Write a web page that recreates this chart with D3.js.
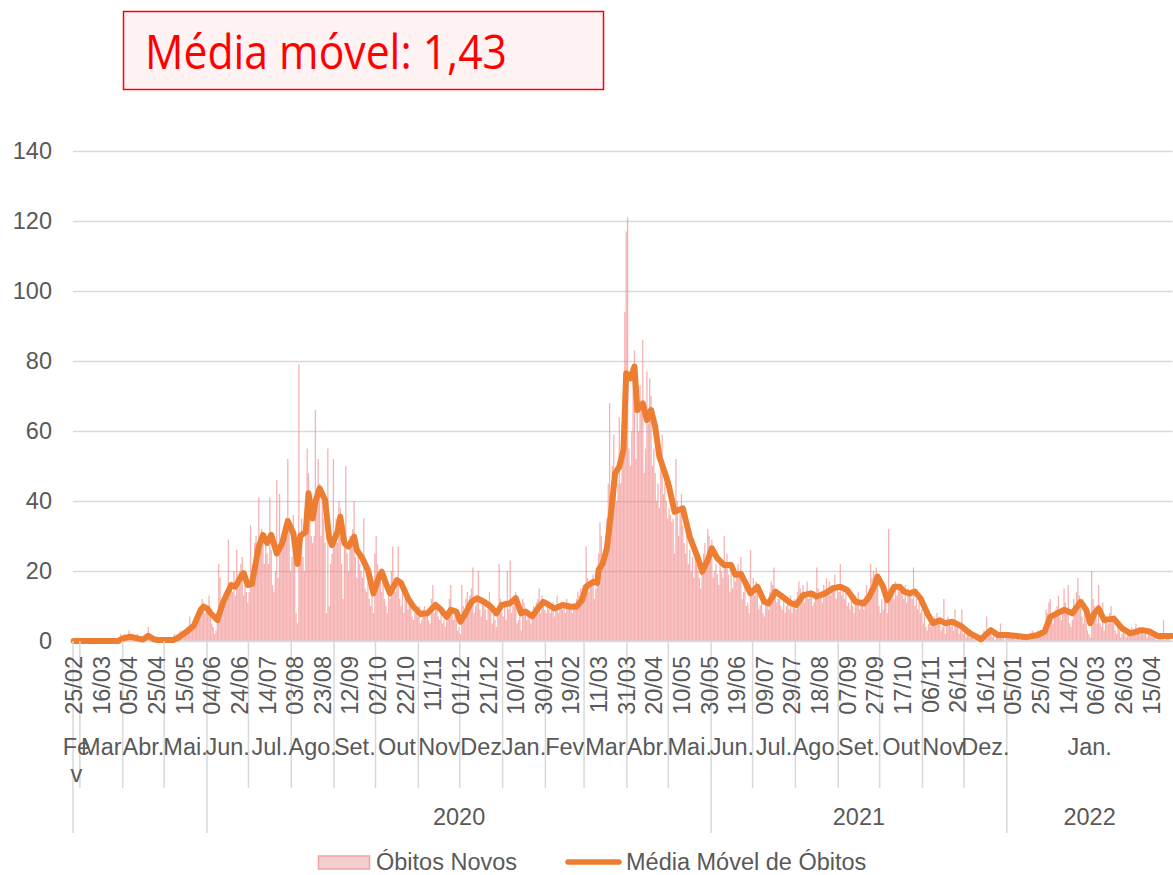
<!DOCTYPE html>
<html><head><meta charset="utf-8">
<script src="https://cdn.jsdelivr.net/npm/d3@7"></script>
<style>body{margin:0;background:#fff}svg{display:block}</style>
</head><body>
<svg id="c" width="1173" height="875"></svg>
<script>
// ---------- DATA ----------
const titulo = "Média móvel: 1,43";
const inicio = "2020-02-25";
// Óbitos novos diários (a partir de 25/02/2020)
const obitosNovos = [
0,0,0,0,0,0,0,0,0,0,0,0,0,0,0,0,0,0,0,0,
0,0,0,0,0,0,0,0,0,0,0,0,0,1,2,1,1,2,0,1,
3,1,2,1,0,1,2,1,0,0,0,1,2,1,4,2,1,1,0,0,
0,0,1,0,0,1,0,0,1,0,0,0,1,2,1,2,1,3,2,3,
2,3,4,2,7,3,4,6,7,5,9,6,8,12,11,8,10,9,13,7,
5,4,2,3,8,22,18,9,12,10,14,15,29,16,17,14,20,13,26,15,
20,22,24,13,16,14,11,14,33,18,17,28,30,26,41,27,32,31,22,30,
25,22,41,26,16,14,20,46,18,42,27,30,28,30,35,52,33,20,24,36,
28,8,5,79,30,35,24,20,32,55,48,35,30,28,30,66,40,52,45,30,
40,35,28,8,55,10,22,25,52,30,35,28,40,38,22,12,30,50,25,20,
30,28,32,40,24,18,26,22,20,18,35,15,14,17,12,10,14,8,25,30,
22,20,18,14,20,12,10,8,15,12,20,27,18,14,18,27,12,10,14,8,
12,15,9,11,10,7,6,8,9,7,10,5,6,9,10,7,8,6,5,12,
16,8,10,9,7,6,10,5,6,4,7,9,12,16,8,6,7,8,3,4,
2,16,10,9,12,14,11,13,15,21,8,10,12,20,9,7,12,11,9,6,
10,14,11,5,8,6,4,9,22,12,8,7,10,6,20,9,23,8,10,12,
14,5,6,7,3,12,11,8,6,8,7,5,8,10,9,11,12,15,8,13,
11,9,8,10,9,8,10,11,7,9,13,8,10,11,9,10,8,12,10,9,
10,8,11,9,12,14,13,15,12,16,15,27,18,14,17,16,19,12,15,20,
25,34,30,22,24,28,35,45,68,42,50,59,48,40,45,64,45,50,55,94,
117,121,55,50,60,78,83,52,73,60,73,66,86,48,55,77,62,75,70,50,
55,48,40,45,38,50,59,42,45,40,35,38,36,34,35,25,52,40,30,38,
42,33,28,25,30,22,26,20,24,18,25,22,20,18,15,19,25,28,22,32,
30,27,29,18,20,22,19,16,24,20,18,30,22,25,19,14,21,15,18,17,
20,22,19,24,12,14,16,10,11,8,26,15,18,13,17,14,9,10,12,8,
7,12,10,9,14,17,16,21,13,11,12,14,10,9,12,8,10,11,9,13,
8,10,12,9,14,17,15,12,16,11,13,17,12,14,13,10,11,12,21,15,
12,14,11,16,13,18,15,17,13,16,14,19,12,15,14,22,13,16,12,15,
10,11,9,12,10,8,13,11,14,9,10,12,9,13,16,12,15,22,18,20,
19,21,17,10,8,12,9,12,13,8,32,15,14,16,12,17,13,16,14,15,
13,12,16,11,15,13,14,12,21,10,12,9,11,8,9,5,8,4,3,5,
6,4,5,7,6,8,5,6,3,4,12,2,5,7,6,4,5,3,9,5,
4,2,3,9,2,3,1,2,3,1,2,1,0,1,0,0,1,0,2,3,
1,7,2,3,4,1,2,0,1,2,1,5,1,2,0,1,2,1,2,1,
2,1,0,2,1,0,2,1,1,0,2,1,0,1,3,2,1,2,3,2,
3,2,4,5,9,8,11,12,6,5,8,9,10,13,7,6,9,15,11,8,
16,5,4,6,12,10,14,18,13,11,7,5,9,6,3,2,1,20,12,10,
8,5,16,5,4,11,3,6,7,5,8,10,6,5,3,2,4,3,1,2,
3,2,1,2,3,2,4,3,2,5,3,4,2,3,4,2,3,1,2,3,
2,1,2,1,0,2,1,2,1,6,0,1,1,2,0,0
];
// Média móvel: dia (índice desde 25/02/2020) e valor
const mmDia = [0,32,36,41,50,54,58,61,72,75,82,87,92,94,97,99,104,108,114,117,121,123,126,129,134,137,140,143,147,151,155,159,162,164,168,170,173,175,178,182,185,187,191,193,196,199,203,205,209,213,217,221,223,226,229,234,237,242,246,251,256,262,266,270,273,277,280,283,288,292,297,302,306,310,316,320,324,327,332,336,340,344,348,354,360,364,368,371,376,379,380,383,385,386,389,392,395,398,400,403,406,408,412,415,418,421,424,429,431,435,441,446,452,455,459,462,466,471,476,479,483,486,490,495,500,503,508,513,519,523,528,534,538,544,550,555,560,566,572,576,580,582,586,589,594,598,601,605,609,613,618,622,627,631,636,642,649,657,660,664,669,676,683,690,698,703,707,712,717,723,729,733,736,739,742,746,753,759,765,773,779,785,795];
const mmValor = [0,0,0.8,1.2,0.4,1.5,0.5,0.3,0.3,0.8,2.7,4.4,8.9,9.8,9.2,8,6,10.9,16,15.5,18.4,19.4,16,16.3,27,30.3,28,30.3,25,28,34.3,30.8,22,30,31.2,42.2,35,39.8,43.6,40.3,29.3,27.4,31.2,35.5,27.9,27,29.8,26,23.6,20.3,13.6,18.4,19.8,16.5,13.6,17.4,16.6,12.2,9.8,7.7,7.9,10.3,8.9,6.9,8.9,8.4,5.5,7.4,11.2,12.2,11.2,9.8,7.9,10.3,10.8,12.2,7.9,8.4,7.1,9.3,11.2,10.3,9.3,10.3,9.8,9.8,11.7,15.5,16.9,16.6,20.3,22.2,25,26.5,36.5,47.9,49.8,54.6,76.5,75,78.4,66,67.9,63.1,66,61.2,52.7,46.9,44.1,36.9,37.9,29.8,23.6,19.8,23.1,26.5,23.6,21.7,21.7,18.9,19.2,16.9,13.6,15.5,11.2,10.7,14.1,12.7,10.8,10.3,13.1,13.6,12.7,13.6,15.1,15.5,14.6,11.2,10.7,12.7,16,18.4,15.5,11.7,15.5,15.5,14.1,13.6,14.1,12.2,7.9,5.1,5.9,5.1,5.5,4.4,2.2,0.5,1.7,3.1,1.7,1.7,1.4,1.1,1.7,2.7,6.9,7.9,8.9,7.9,11.2,8.9,5.1,7.9,9.3,6,6.4,3.6,2.2,3.1,2.7,1.4,1.43];
const rotulosDatas = ["25/02","16/03","05/04","25/04","15/05","04/06","24/06","14/07","03/08","23/08","12/09","02/10","22/10","11/11","01/12","21/12","10/01","30/01","19/02","11/03","31/03","20/04","10/05","30/05","19/06","09/07","29/07","18/08","07/09","27/09","17/10","06/11","26/11","16/12","05/01","25/01","14/02","06/03","26/03","15/04"];
const intervaloRotulos = 20;
const mesesRotulos = ["Fev","Mar","Abr.","Mai.","Jun.","Jul.","Ago.","Set.","Out","Nov","Dez","Jan.","Fev","Mar","Abr.","Mai.","Jun.","Jul.","Ago.","Set.","Out","Nov","Dez.","Jan."];
const mesesInicio = [0,5,36,66,97,127,158,189,219,250,280,311,342,370,401,431,462,492,523,554,584,615,645,676];
const anosRotulos = ["","2020","2021","2022"];
const anosInicio = [0,97,462,676];
const yTicks = [0,20,40,60,80,100,120,140];
const legenda = ["Óbitos Novos","Média Móvel de Óbitos"];

// ---------- CHART ----------
const N = obitosNovos.length;
const FONT = "'Liberation Sans', Arial, sans-serif";
const TXT = "#595959", GRID = "#d9d9d9";
const svg = d3.select("#c");
const x = d3.scaleLinear().domain([0, N]).range([73, 1172.5]);
const y = d3.scaleLinear().domain([0, 140]).range([641, 151]);
const step = x(1) - x(0);

// title box
svg.append("rect").attr("x",123.5).attr("y",11.5).attr("width",480).attr("height",78)
  .attr("fill","#fff3f3").attr("stroke","#ff0000").attr("stroke-width",1.5);
svg.append("text").attr("x",145).attr("y",69).text(titulo)
  .attr("font-family","'Open Sans','Noto Sans',sans-serif").attr("font-size",47)
  .attr("fill","#ff0000").attr("textLength",362).attr("lengthAdjust","spacingAndGlyphs");

// y axis with gridlines
const yAxis = d3.axisLeft(y).tickValues(yTicks).tickSize(-(x(N)-x(0))).tickPadding(21).tickFormat(d3.format("d"));
const gy = svg.append("g").attr("transform",`translate(${x(0)},0)`).call(yAxis);
gy.select(".domain").remove();
gy.selectAll(".tick line").attr("stroke",GRID).attr("stroke-width",1.5);
gy.selectAll(".tick text").attr("font-family",FONT).attr("font-size",23.5).attr("fill",TXT);

// bars
svg.append("g").selectAll("rect").data(obitosNovos).join("rect")
  .attr("x",(d,i)=>x(i)+0.05).attr("width",step-0.1)
  .attr("y",d=>y(d)).attr("height",d=>y(0)-y(d))
  .attr("fill","#f07f7f").attr("fill-opacity",0.6);

// x axis line
svg.append("line").attr("x1",x(0)).attr("x2",x(N)).attr("y1",y(0)).attr("y2",y(0))
  .attr("stroke",GRID).attr("stroke-width",1.5);

// moving average line
const linha = d3.line().x((d,k)=>x(mmDia[k]+0.5)).y(d=>y(d));
svg.append("path").datum(mmValor).attr("d",linha).attr("fill","none")
  .attr("stroke","#ed7d31").attr("stroke-width",6).attr("stroke-linejoin","round").attr("stroke-linecap","round");

// month separators
const anosSet = new Set(anosInicio);
svg.append("g").selectAll("line").data(mesesInicio).join("line")
  .attr("x1",d=>x(d)).attr("x2",d=>x(d)).attr("y1",y(0)).attr("y2",d=>anosSet.has(d)?833:788)
  .attr("stroke",GRID).attr("stroke-width",1.5);

// date labels (rotated)
svg.append("g").selectAll("text").data(rotulosDatas).join("text")
  .attr("transform",(d,k)=>`translate(${x(k*intervaloRotulos+0.5)+8.5},656) rotate(-90)`)
  .attr("text-anchor","end").attr("font-family",FONT).attr("font-size",23.5).attr("fill",TXT)
  .text(d=>d);

// month labels
const gm = svg.append("g").attr("font-family",FONT).attr("font-size",23.5).attr("fill",TXT).attr("text-anchor","middle");
mesesRotulos.forEach((m,k)=>{
  const a = mesesInicio[k], b = k+1<mesesInicio.length ? mesesInicio[k+1] : N;
  const cx = (x(a)+x(b))/2;
  const t = gm.append("text").attr("x",cx).attr("y",755);
  if (x(b)-x(a) < 20) {
    t.append("tspan").attr("x",cx).text(m.slice(0,-1));
    t.append("tspan").attr("x",cx).attr("dy",27).text(m.slice(-1));
  } else t.text(m);
});

// year labels
anosRotulos.forEach((a,k)=>{
  const s = anosInicio[k], e = k+1<anosInicio.length ? anosInicio[k+1] : N;
  svg.append("text").attr("x",(x(s)+x(e))/2).attr("y",825).attr("text-anchor","middle")
    .attr("font-family",FONT).attr("font-size",23.5).attr("fill",TXT).text(a);
});

// legend
svg.append("rect").attr("x",318.5).attr("y",856).attr("width",51).attr("height",13)
  .attr("fill","#f4cfcf").attr("stroke","#f3a3a3").attr("stroke-width",1.5);
svg.append("text").attr("x",376).attr("y",870).text(legenda[0])
  .attr("font-family",FONT).attr("font-size",23.5).attr("fill",TXT);
svg.append("line").attr("x1",568).attr("x2",619).attr("y1",862).attr("y2",862)
  .attr("stroke","#ed7d31").attr("stroke-width",5.5).attr("stroke-linecap","round");
svg.append("text").attr("x",626).attr("y",870).text(legenda[1])
  .attr("font-family",FONT).attr("font-size",23.5).attr("fill",TXT);
</script>
</body></html>
